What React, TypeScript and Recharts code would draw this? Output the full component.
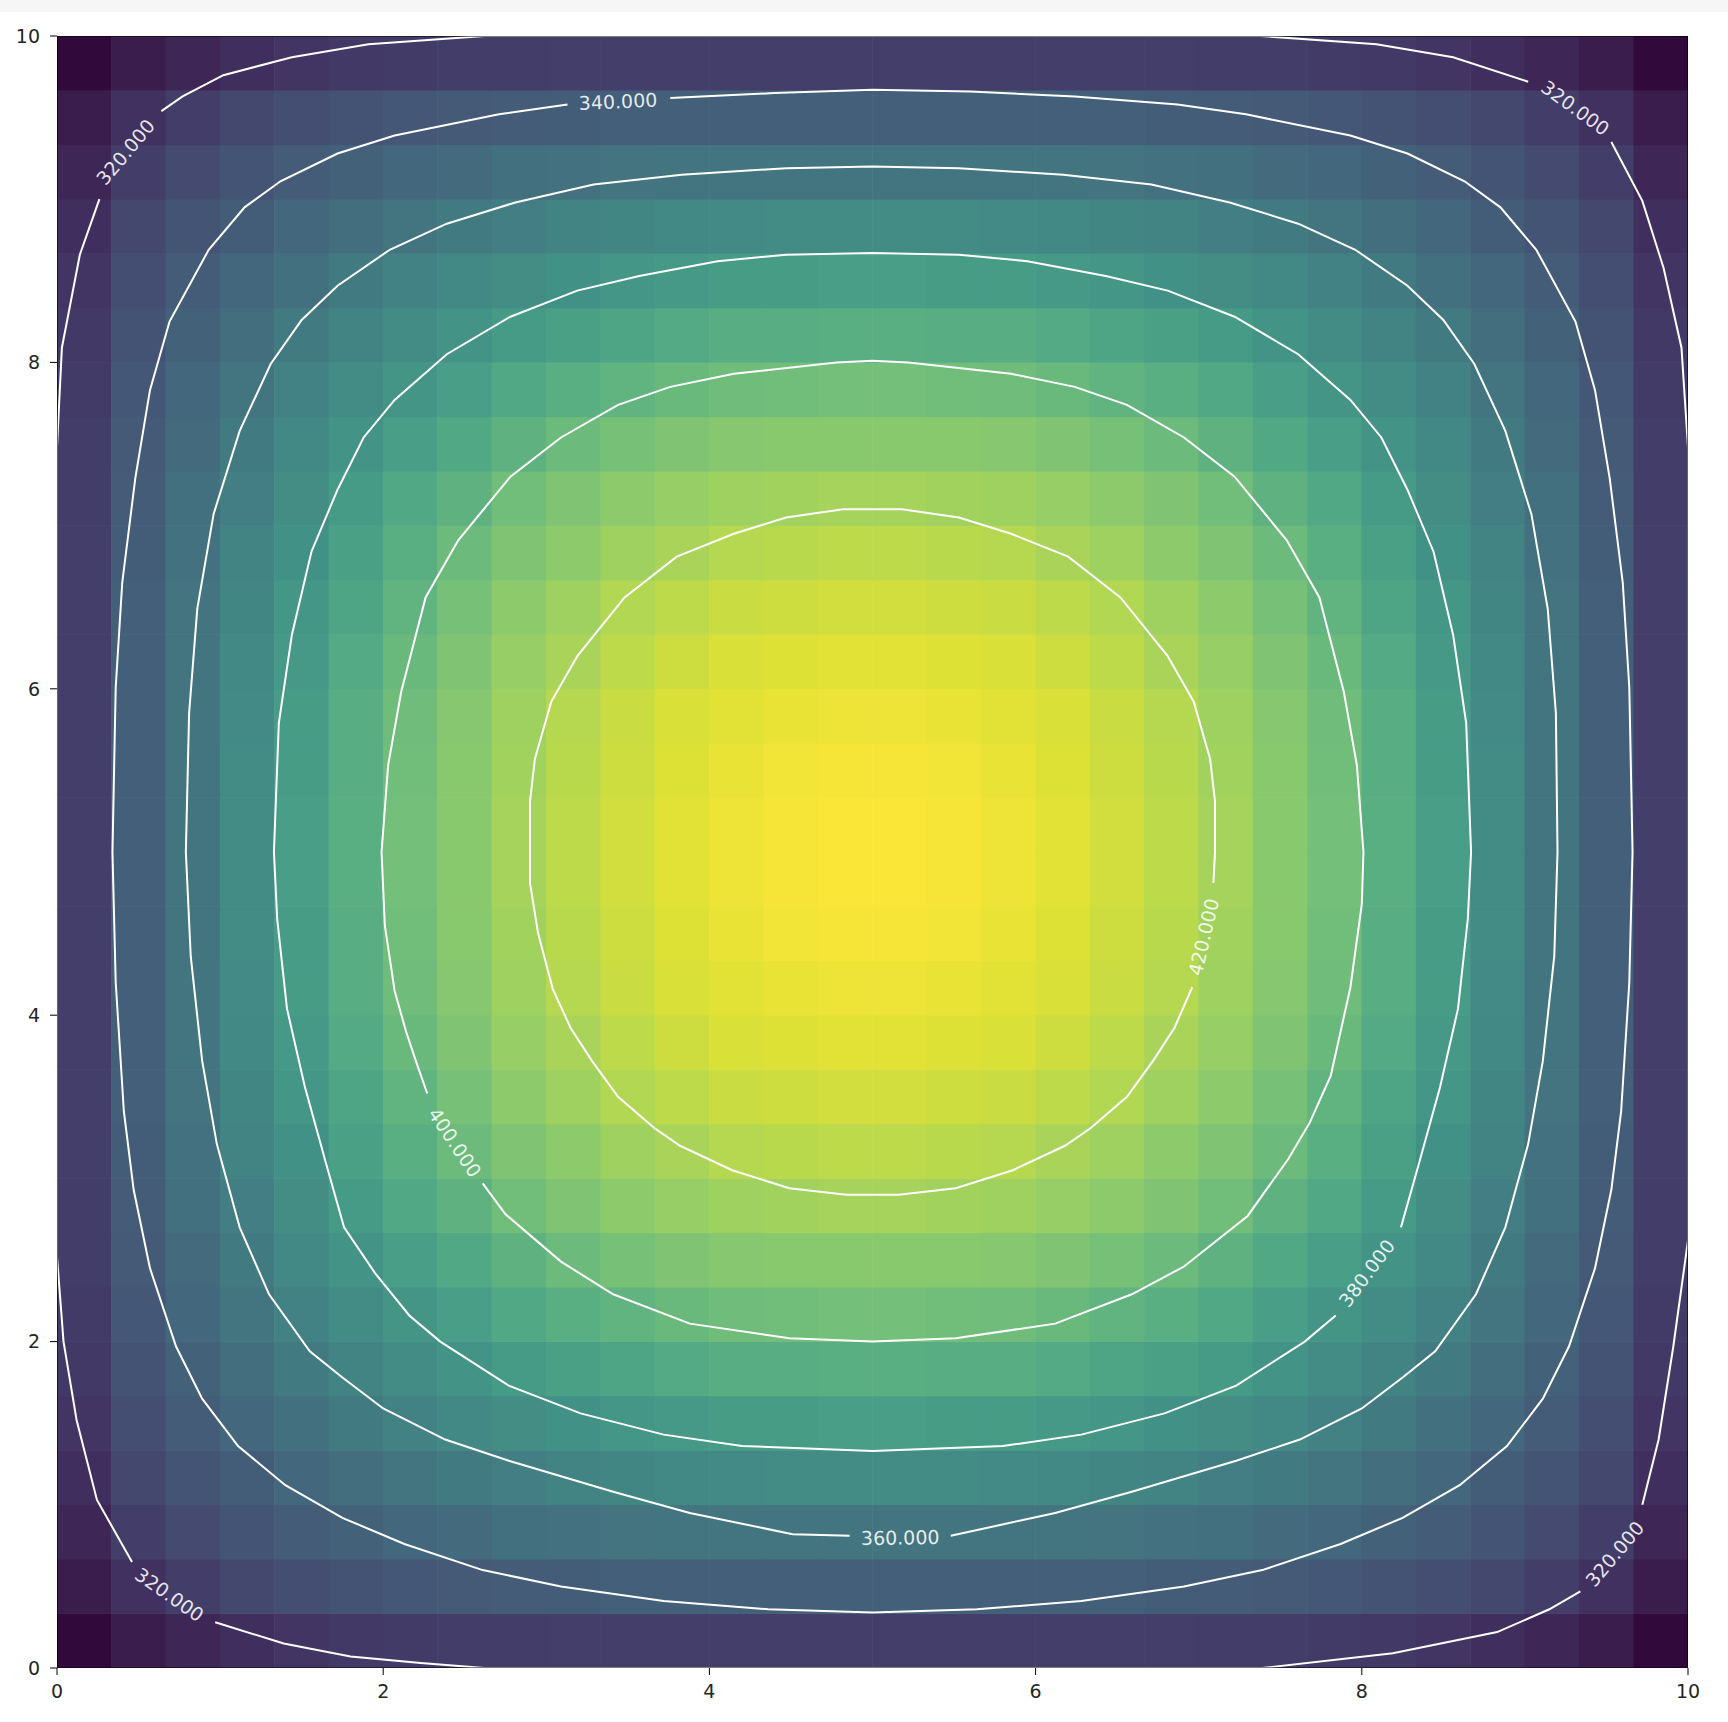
import React from 'react';
import { ScatterChart, Scatter, XAxis, YAxis } from 'recharts';

// 30 x 30 field, row 0 is the bottom row (y = 0), column 0 the left column (x = 0)
const heatRows: number[][] = [
  [296, 304, 309, 313, 316, 318, 319, 320, 320, 321, 321, 321, 321, 321, 321, 321, 321, 321, 321, 321, 321, 320, 320, 319, 318, 316, 313, 309, 304, 296],
  [304, 314, 320, 325, 329, 332, 335, 337, 338, 339, 340, 340, 340, 340, 340, 340, 340, 340, 340, 340, 339, 338, 337, 335, 332, 329, 325, 320, 314, 304],
  [309, 320, 327, 333, 338, 342, 345, 348, 351, 352, 354, 355, 355, 355, 355, 355, 355, 355, 355, 354, 352, 351, 348, 345, 342, 338, 333, 327, 320, 309],
  [313, 325, 333, 339, 345, 350, 355, 358, 361, 364, 366, 367, 368, 369, 369, 369, 369, 368, 367, 366, 364, 361, 358, 355, 350, 345, 339, 333, 325, 313],
  [316, 329, 338, 345, 351, 358, 363, 367, 371, 374, 377, 379, 381, 381, 382, 382, 381, 381, 379, 377, 374, 371, 367, 363, 358, 351, 345, 338, 329, 316],
  [318, 332, 342, 350, 358, 364, 370, 375, 380, 383, 386, 389, 391, 391, 392, 392, 391, 391, 389, 386, 383, 380, 375, 370, 364, 358, 350, 342, 332, 318],
  [319, 335, 345, 355, 363, 370, 376, 382, 388, 392, 395, 398, 400, 401, 402, 402, 401, 400, 398, 395, 392, 388, 382, 376, 370, 363, 355, 345, 335, 319],
  [320, 337, 348, 358, 367, 375, 382, 388, 394, 399, 403, 406, 408, 409, 409, 409, 409, 408, 406, 403, 399, 394, 388, 382, 375, 367, 358, 348, 337, 320],
  [320, 338, 351, 361, 371, 380, 388, 394, 401, 406, 410, 413, 415, 416, 417, 417, 416, 415, 413, 410, 406, 401, 394, 388, 380, 371, 361, 351, 338, 320],
  [321, 339, 352, 364, 374, 383, 392, 399, 406, 410, 415, 418, 421, 422, 423, 423, 422, 421, 418, 415, 410, 406, 399, 392, 383, 374, 364, 352, 339, 321],
  [321, 340, 354, 366, 377, 386, 395, 403, 410, 415, 420, 423, 426, 427, 428, 428, 427, 426, 423, 420, 415, 410, 403, 395, 386, 377, 366, 354, 340, 321],
  [321, 340, 355, 367, 379, 389, 398, 406, 413, 418, 423, 427, 430, 431, 432, 432, 431, 430, 427, 423, 418, 413, 406, 398, 389, 379, 367, 355, 340, 321],
  [321, 340, 355, 368, 381, 391, 400, 408, 415, 421, 426, 430, 432, 434, 435, 435, 434, 432, 430, 426, 421, 415, 408, 400, 391, 381, 368, 355, 340, 321],
  [321, 340, 355, 369, 381, 391, 401, 409, 416, 422, 427, 431, 434, 436, 437, 437, 436, 434, 431, 427, 422, 416, 409, 401, 391, 381, 369, 355, 340, 321],
  [321, 340, 355, 369, 382, 392, 402, 409, 417, 423, 428, 432, 435, 437, 438, 438, 437, 435, 432, 428, 423, 417, 409, 402, 392, 382, 369, 355, 340, 321],
  [321, 340, 355, 369, 382, 392, 402, 409, 417, 423, 428, 432, 435, 437, 438, 438, 437, 435, 432, 428, 423, 417, 409, 402, 392, 382, 369, 355, 340, 321],
  [321, 340, 355, 369, 381, 391, 401, 409, 416, 422, 427, 431, 434, 436, 437, 437, 436, 434, 431, 427, 422, 416, 409, 401, 391, 381, 369, 355, 340, 321],
  [321, 340, 355, 368, 381, 391, 400, 408, 415, 421, 426, 430, 432, 434, 435, 435, 434, 432, 430, 426, 421, 415, 408, 400, 391, 381, 368, 355, 340, 321],
  [321, 340, 355, 367, 379, 389, 398, 406, 413, 418, 423, 427, 430, 431, 432, 432, 431, 430, 427, 423, 418, 413, 406, 398, 389, 379, 367, 355, 340, 321],
  [321, 340, 354, 366, 377, 386, 395, 403, 410, 415, 420, 423, 426, 427, 428, 428, 427, 426, 423, 420, 415, 410, 403, 395, 386, 377, 366, 354, 340, 321],
  [321, 339, 352, 364, 374, 383, 392, 399, 406, 410, 415, 418, 421, 422, 423, 423, 422, 421, 418, 415, 410, 406, 399, 392, 383, 374, 364, 352, 339, 321],
  [320, 338, 351, 361, 371, 380, 388, 394, 401, 406, 410, 413, 415, 416, 417, 417, 416, 415, 413, 410, 406, 401, 394, 388, 380, 371, 361, 351, 338, 320],
  [320, 337, 348, 358, 367, 375, 382, 388, 394, 399, 403, 406, 408, 409, 409, 409, 409, 408, 406, 403, 399, 394, 388, 382, 375, 367, 358, 348, 337, 320],
  [319, 335, 345, 355, 363, 370, 376, 382, 388, 392, 395, 398, 400, 401, 402, 402, 401, 400, 398, 395, 392, 388, 382, 376, 370, 363, 355, 345, 335, 319],
  [318, 332, 342, 350, 358, 364, 370, 375, 380, 383, 386, 389, 391, 391, 392, 392, 391, 391, 389, 386, 383, 380, 375, 370, 364, 358, 350, 342, 332, 318],
  [316, 329, 338, 345, 351, 358, 363, 367, 371, 374, 377, 379, 381, 381, 382, 382, 381, 381, 379, 377, 374, 371, 367, 363, 358, 351, 345, 338, 329, 316],
  [313, 325, 333, 339, 345, 350, 355, 358, 361, 364, 366, 367, 368, 369, 369, 369, 369, 368, 367, 366, 364, 361, 358, 355, 350, 345, 339, 333, 325, 313],
  [309, 320, 327, 333, 338, 342, 345, 348, 351, 352, 354, 355, 355, 355, 355, 355, 355, 355, 355, 354, 352, 351, 348, 345, 342, 338, 333, 327, 320, 309],
  [304, 314, 320, 325, 329, 332, 335, 337, 338, 339, 340, 340, 340, 340, 340, 340, 340, 340, 340, 340, 339, 338, 337, 335, 332, 329, 325, 320, 314, 304],
  [296, 304, 309, 313, 316, 318, 319, 320, 320, 321, 321, 321, 321, 321, 321, 321, 321, 321, 321, 321, 321, 320, 320, 319, 318, 316, 313, 309, 304, 296],
];

const xTicks = [0, 2, 4, 6, 8, 10];
const yTicks = [0, 2, 4, 6, 8, 10];

// contour polylines, split where the inline labels sit
const contour320 = [
  [[0.64, 9.54], [0.77, 9.63], [1.02, 9.76], [1.44, 9.87], [1.91, 9.95], [2.62, 10], [7.38, 10], [8.09, 9.95], [8.56, 9.87], [9.02, 9.72]],
  [[9.53, 9.35], [9.72, 8.99], [9.85, 8.58], [9.96, 8.09], [10, 7.48], [10, 2.62], [9.91, 1.97], [9.82, 1.4], [9.72, 1.0]],
  [[9.34, 0.47], [9.15, 0.36], [8.83, 0.22], [8.19, 0.09], [7.39, 0], [2.62, 0], [2.23, 0.03], [1.8, 0.07], [1.39, 0.15], [0.97, 0.28]],
  [[0.46, 0.65], [0.245, 1.03], [0.12, 1.52], [0.04, 2.0], [0, 2.52], [0, 7.48], [0.03, 8.09], [0.14, 8.66], [0.26, 9.0]],
];

const contour340 = [
  [[3.76, 9.62], [4.4, 9.65], [5.0, 9.67], [5.6, 9.66], [6.24, 9.63], [6.87, 9.58], [7.29, 9.52], [7.93, 9.39], [8.28, 9.28],
   [8.63, 9.11], [8.85, 8.95], [9.07, 8.69], [9.31, 8.25], [9.43, 7.83], [9.52, 7.29], [9.6, 6.65], [9.64, 6.01], [9.66, 5.0],
   [9.64, 4.2], [9.59, 3.41], [9.53, 2.93], [9.43, 2.45], [9.27, 1.97], [9.11, 1.65], [8.89, 1.36], [8.6, 1.12], [8.25, 0.92],
   [7.87, 0.76], [7.39, 0.6], [6.91, 0.5], [6.28, 0.41], [5.64, 0.36], [5.0, 0.34], [4.36, 0.36], [3.72, 0.41], [3.09, 0.5],
   [2.61, 0.6], [2.13, 0.76], [1.75, 0.92], [1.4, 1.12], [1.11, 1.36], [0.89, 1.65], [0.73, 1.97], [0.57, 2.45], [0.47, 2.93],
   [0.41, 3.41], [0.36, 4.2], [0.34, 5.0], [0.36, 6.01], [0.4, 6.65], [0.48, 7.29], [0.57, 7.83], [0.69, 8.25], [0.93, 8.69],
   [1.15, 8.95], [1.37, 9.11], [1.72, 9.28], [2.07, 9.39], [2.71, 9.52], [3.13, 9.58]],
];

const contour360 = [
  [[5.48, 0.81], [6.12, 0.95], [6.59, 1.08], [7.23, 1.27], [7.62, 1.4], [8.0, 1.59], [8.25, 1.78], [8.45, 1.94], [8.7, 2.29],
   [8.88, 2.7], [9.02, 3.21], [9.11, 3.72], [9.18, 4.36], [9.2, 5.0], [9.19, 5.85], [9.14, 6.49], [9.04, 7.07], [8.88, 7.58],
   [8.69, 7.99], [8.5, 8.26], [8.28, 8.47], [7.96, 8.69], [7.61, 8.85], [7.19, 8.98], [6.71, 9.09], [6.17, 9.15], [5.53, 9.19],
   [5.0, 9.2], [4.47, 9.19], [3.83, 9.15], [3.29, 9.09], [2.81, 8.98], [2.39, 8.85], [2.04, 8.69], [1.72, 8.47], [1.5, 8.26],
   [1.31, 7.99], [1.12, 7.58], [0.96, 7.07], [0.86, 6.49], [0.81, 5.85], [0.79, 5.0], [0.82, 4.36], [0.89, 3.72], [0.98, 3.21],
   [1.12, 2.7], [1.3, 2.29], [1.55, 1.94], [1.75, 1.78], [2.0, 1.59], [2.38, 1.4], [2.77, 1.27], [3.41, 1.08], [3.88, 0.95],
   [4.51, 0.82], [4.86, 0.81]],
];

const contour380 = [
  [[8.24, 2.7], [8.35, 3.09], [8.48, 3.56], [8.59, 4.04], [8.65, 4.59], [8.67, 5.0], [8.64, 5.79], [8.56, 6.33], [8.44, 6.84],
   [8.28, 7.22], [8.12, 7.54], [7.93, 7.77], [7.61, 8.05], [7.22, 8.28], [6.81, 8.44], [6.43, 8.53], [5.95, 8.62], [5.53, 8.66],
   [5.0, 8.67], [4.47, 8.66], [4.05, 8.62], [3.57, 8.53], [3.19, 8.44], [2.78, 8.28], [2.39, 8.05], [2.07, 7.77], [1.88, 7.54],
   [1.72, 7.22], [1.56, 6.84], [1.44, 6.33], [1.36, 5.79], [1.33, 5.0], [1.35, 4.59], [1.41, 4.04], [1.52, 3.56], [1.65, 3.09],
   [1.76, 2.7], [1.95, 2.42], [2.16, 2.16], [2.35, 2.0], [2.77, 1.73], [3.21, 1.56], [3.72, 1.43], [4.2, 1.36], [5.0, 1.33],
   [5.8, 1.36], [6.28, 1.43], [6.79, 1.56], [7.23, 1.73], [7.65, 2.0], [7.84, 2.16]],
];

const contour400 = [
  [[2.61, 2.97], [2.75, 2.78], [3.09, 2.49], [3.41, 2.29], [3.88, 2.11], [4.49, 2.02], [5.0, 2.0], [5.51, 2.02], [6.12, 2.11],
   [6.59, 2.29], [6.91, 2.46], [7.3, 2.77], [7.55, 3.12], [7.68, 3.34], [7.81, 3.63], [7.93, 4.17], [8.0, 4.68], [8.01, 5.0],
   [7.97, 5.53], [7.89, 5.98], [7.74, 6.56], [7.54, 6.91], [7.22, 7.3], [6.91, 7.54], [6.56, 7.74], [6.24, 7.85], [5.85, 7.93],
   [5.22, 8.0], [5.0, 8.01], [4.78, 8.0], [4.15, 7.93], [3.76, 7.85], [3.44, 7.74], [3.09, 7.54], [2.78, 7.3], [2.46, 6.91],
   [2.26, 6.56], [2.11, 5.98], [2.03, 5.53], [1.99, 5.0], [2.01, 4.55], [2.07, 4.15], [2.14, 3.9], [2.2, 3.72], [2.27, 3.52]],
];

const contour420 = [
  [[6.96, 4.17], [6.85, 3.92], [6.72, 3.72], [6.56, 3.5], [6.34, 3.31], [6.18, 3.2], [5.86, 3.05], [5.51, 2.94], [5.16, 2.9],
   [4.84, 2.9], [4.49, 2.94], [4.14, 3.05], [3.82, 3.2], [3.66, 3.31], [3.44, 3.5], [3.28, 3.72], [3.15, 3.92], [3.04, 4.16],
   [2.95, 4.5], [2.9, 4.81], [2.9, 5.31], [2.93, 5.57], [3.03, 5.92], [3.19, 6.2], [3.48, 6.56], [3.8, 6.81], [4.15, 6.95],
   [4.47, 7.05], [4.82, 7.1], [5.18, 7.1], [5.53, 7.05], [5.85, 6.95], [6.2, 6.81], [6.52, 6.56], [6.81, 6.2], [6.97, 5.92],
   [7.07, 5.57], [7.1, 5.31], [7.1, 5.0], [7.09, 4.81]],
];

const contourLabels = [
  { text: '320.000', x: 0.42, y: 9.29 },
  { text: '340.000', x: 3.44, y: 9.6 },
  { text: '320.000', x: 9.31, y: 9.56 },
  { text: '420.000', x: 7.03, y: 4.48 },
  { text: '400.000', x: 2.44, y: 3.22 },
  { text: '380.000', x: 8.03, y: 2.42 },
  { text: '320.000', x: 0.69, y: 0.45 },
  { text: '360.000', x: 5.17, y: 0.8 },
  { text: '320.000', x: 9.55, y: 0.7 },
];
const labelAngles = [-50, -2.5, 36, -77, 56, -53, 35, -1, -50];

const W = 1728;
const H = 1722;
const M = { top: 36, right: 40, bottom: 0, left: 0 };
const Y_W = 57;
const X_H = 54;
const PLOT_W = W - M.left - M.right - Y_W;
const PLOT_H = H - M.top - M.bottom - X_H;
const NX = heatRows[0].length;
const NY = heatRows.length;
const CW = PLOT_W / NX;
const CH = PLOT_H / NY;

const viridis = [
  '#440154', '#471365', '#482475', '#463480', '#414487', '#3b528b', '#355f8d', '#2f6c8e', '#2a788e', '#25848e', '#21918c',
  '#1e9c89', '#22a884', '#2fb47c', '#44bf70', '#5ec962', '#7ad151', '#9bd93c', '#bddf26', '#dfe318', '#fde725',
];

const hex = (h: string) => [1, 3, 5].map((k) => parseInt(h.slice(k, k + 2), 16));

const allVals = heatRows.flat();
const vMin = Math.min(...allVals);
const vMax = Math.max(...allVals);

// viridis, washed out in the mid tones like the screenshot
function colorOf(v: number) {
  const u = Math.max(0, Math.min(1, (v - vMin) / (vMax - vMin)));
  const t = u * (viridis.length - 1);
  const i = Math.min(viridis.length - 2, Math.floor(t));
  const f = t - i;
  const a = hex(viridis[i]);
  const b = hex(viridis[i + 1]);
  const c = a.map((q, k) => q + (b[k] - q) * f);
  const lum = 0.2126 * c[0] + 0.7152 * c[1] + 0.0722 * c[2];
  const w = 0.3 * (1 - Math.pow(u, 4)) + 0.1;
  const d = c.map((q) => Math.round(q * (1 - w) + lum * w));
  return `rgb(${d[0]},${d[1]},${d[2]})`;
}

const cells = heatRows.flatMap((row, j) =>
  row.map((v, i) => ({ x: ((i + 0.5) * 10) / NX, y: ((j + 0.5) * 10) / NY, v }))
);

const toPts = (seg: number[][]) => seg.map(([x, y]) => ({ x, y }));
const contourSegs = [contour320, contour340, contour360, contour380, contour400, contour420].flatMap((c) => c.map(toPts));

const labels = contourLabels.map((l, i) => ({ ...l, angle: labelAngles[i] }));

const frame = [
  { x: xTicks[0], y: yTicks[0] },
  { x: xTicks[xTicks.length - 1], y: yTicks[0] },
  { x: xTicks[xTicks.length - 1], y: yTicks[yTicks.length - 1] },
  { x: xTicks[0], y: yTicks[yTicks.length - 1] },
  { x: xTicks[0], y: yTicks[0] },
];

const font = 'DejaVu Sans, sans-serif';
const tickStyle = { fontSize: 19, fill: '#262626', fontFamily: font };

const Cell = (p: any) => (
  <rect
    x={p.cx - CW / 2 - 0.3}
    y={p.cy - CH / 2 - 0.3}
    width={CW + 0.6}
    height={CH + 0.6}
    fill={colorOf(p.payload.v)}
  />
);

const NoDot = () => <g />;

const LabelText = (p: any) => (
  <text
    x={p.cx}
    y={p.cy}
    transform={`rotate(${p.payload.angle} ${p.cx} ${p.cy})`}
    textAnchor="middle"
    dominantBaseline="central"
    fontSize={19}
    fontFamily={font}
    fill="#ffffff"
    fillOpacity={0.88}
  >
    {p.payload.text}
  </text>
);

export default function App() {
  return (
    <div style={{ position: 'absolute', left: 0, top: 0, width: W, height: H, background: '#fff' }}>
      <div style={{ position: 'absolute', left: 0, top: 0, width: W, height: 12, background: '#f6f6f6' }} />
      <ScatterChart width={W} height={H} margin={M}>
        <XAxis
          type="number"
          dataKey="x"
          domain={[0, 10]}
          ticks={xTicks}
          interval={0}
          height={X_H}
          tickSize={7}
          tickMargin={10}
          axisLine={false}
          tickLine={{ stroke: '#000' }}
          tick={tickStyle}
          allowDataOverflow
        />
        <YAxis
          type="number"
          dataKey="y"
          domain={[0, 10]}
          ticks={yTicks}
          interval={0}
          width={Y_W}
          tickSize={7}
          tickMargin={10}
          axisLine={false}
          tickLine={{ stroke: '#000' }}
          tick={tickStyle}
          allowDataOverflow
        />
        <Scatter data={cells} shape={Cell} isAnimationActive={false} />
        {contourSegs.map((seg, k) => (
          <Scatter
            key={`c${k}`}
            data={seg}
            shape={NoDot}
            line={{ stroke: '#ffffff', strokeWidth: 2 }}
            lineType="joint"
            isAnimationActive={false}
          />
        ))}
        <Scatter data={labels} shape={LabelText} isAnimationActive={false} />
        <Scatter
          data={frame}
          shape={NoDot}
          line={{ stroke: '#000000', strokeWidth: 1.2 }}
          lineType="joint"
          isAnimationActive={false}
        />
      </ScatterChart>
    </div>
  );
}
